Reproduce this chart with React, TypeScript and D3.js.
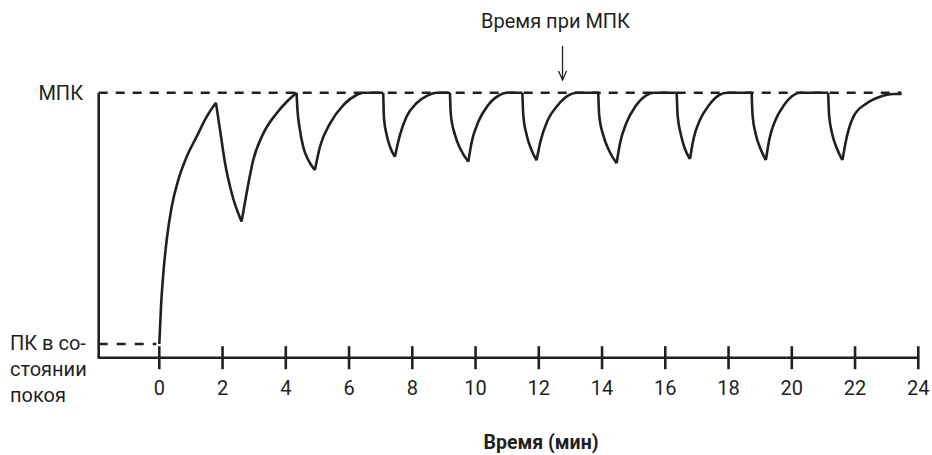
import React from 'react';
import * as d3 from 'd3';

// time (min) and VO2 (% between rest = 0 and VO2max = 100)
const times = [
  0, 0.054, 0.127, 0.234, 0.392, 0.6, 0.866, 1.18, 1.5, 1.79,
  1.92, 2.08, 2.29, 2.6,
  2.76, 2.97, 3.29, 3.71, 4.03, 4.34,
  4.37, 4.43, 4.55, 4.71, 4.92,
  5.08, 5.4, 5.82, 6.24, 6.45, 7.08,
  7.105, 7.19, 7.295, 7.45,
  7.61, 7.82, 8.14, 8.46, 8.77, 9.19,
  9.22, 9.35, 9.51, 9.77,
  9.88, 10.09, 10.4, 10.77, 10.98, 11.48,
  11.51, 11.62, 11.76, 11.93,
  12.06, 12.28, 12.6, 12.95, 13.2, 13.88,
  13.91, 14.04, 14.22, 14.46,
  14.57, 14.77, 15.05, 15.38, 15.62, 16.36,
  16.39, 16.49, 16.61, 16.78,
  16.89, 17.09, 17.38, 17.7, 17.94, 18.73,
  18.76, 18.86, 19.0, 19.18,
  19.29, 19.48, 19.75, 20.05, 20.26, 21.15,
  21.18, 21.28, 21.42, 21.6,
  21.74, 21.95, 22.37, 22.79, 23.21, 23.47,
];
const values = [
  0, 14.8, 28.1, 41.4, 54.6, 65.3, 74.5, 82.5, 90.5, 96.0,
  85.2, 71.9, 60, 48.7,
  60, 73.2, 83.8, 91.8, 96.4, 100,
  93, 86.5, 78.5, 73.2, 69.2,
  78.5, 87.8, 95.1, 99.1, 100, 100,
  89.8, 83.2, 78.5, 74.5,
  83.2, 90.5, 95.9, 98.7, 100, 100,
  91.1, 83.2, 77.9, 72.5,
  80.5, 88.5, 95.1, 99.1, 100, 100,
  91, 83, 77.5, 73.1,
  81, 89, 95, 99, 100, 100,
  91, 83, 77, 71.9,
  80, 88, 94.5, 98.8, 100, 100,
  91, 83.5, 78, 73.6,
  81.5, 89, 95, 99, 100, 100,
  91, 83.5, 78, 73.2,
  81.5, 89, 95, 99, 100, 100,
  91, 83.5, 78, 73.2,
  82.5, 90.5, 95.8, 98.4, 99.5, 99.5,
];
// sharp corners of the curve (peaks / troughs), in minutes
const kinks = [1.79, 2.6, 4.34, 4.92, 7.08, 7.45, 9.19, 9.77, 11.48, 11.93, 13.88, 14.46, 16.36, 16.78, 18.73, 19.18, 21.15, 21.6];

const xTicks = [0, 2, 4, 6, 8, 10, 12, 14, 16, 18, 20, 22, 24];
const maxLabel = 'МПК';
const restLabel = ['ПК в со-', 'стоянии', 'покоя'];
const annotation = 'Время при МПК';
const annotationTime = 12.75;
const xTitle = 'Время (мин)';

const W = 932;
const H = 455;
const INK = '#231f20';
const FONT = 'Roboto, sans-serif';

export default function App() {
  const x = d3.scaleLinear().domain([0, 24]).range([159.3, 918.3]);
  const y = d3.scaleLinear().domain([0, 100]).range([344, 92.7]);
  const axisY = 357.7;
  const yAxisX = 98.7;

  const pts = times.map((t, i) => [t, values[i]] as [number, number]);
  const segments: [number, number][][] = [];
  let cur: [number, number][] = [];
  pts.forEach((p) => {
    cur.push(p);
    if (kinks.includes(p[0])) {
      segments.push(cur);
      cur = [p];
    }
  });
  if (cur.length > 1) segments.push(cur);

  const line = d3
    .line<[number, number]>()
    .x((d) => x(d[0]))
    .y((d) => y(d[1]))
    .curve(d3.curveMonotoneX);

  const ax = x(annotationTime);

  return (
    <svg
      width={W}
      height={H}
      style={{ position: 'absolute', left: 0, top: 0, background: '#fff' }}
      fontFamily={FONT}
    >
      {/* VO2max dashed reference */}
      <line x1={yAxisX} x2={x(23.47)} y1={y(100)} y2={y(100)} stroke={INK} strokeWidth={2.6} strokeDasharray="9 8" />
      {/* rest dashed reference */}
      <line x1={yAxisX} x2={x(0) - 3} y1={y(0)} y2={y(0)} stroke={INK} strokeWidth={2.6} strokeDasharray="9 9" />

      {/* y axis */}
      <line x1={yAxisX} x2={yAxisX} y1={y(100)} y2={axisY + 1} stroke={INK} strokeWidth={2.6} />
      {/* x axis */}
      <line x1={yAxisX} x2={x(24)} y1={axisY} y2={axisY} stroke={INK} strokeWidth={2.6} />
      {xTicks.map((t) => (
        <g key={t}>
          <line x1={x(t)} x2={x(t)} y1={axisY - 11.5} y2={axisY + 11.5} stroke={INK} strokeWidth={2.6} />
          <text x={x(t)} y={395} textAnchor="middle" fontSize={20} fill={INK}>
            {t}
          </text>
        </g>
      ))}

      {/* curve */}
      {segments.map((s, i) => (
        <path key={i} d={line(s) || ''} fill="none" stroke={INK} strokeWidth={2.6} strokeLinejoin="miter" />
      ))}

      {/* labels */}
      <text x={83} y={y(100) + 7} textAnchor="end" fontSize={20} fill={INK}>
        {maxLabel}
      </text>
      {restLabel.map((s, i) => (
        <text key={i} x={10} y={350 + i * 26} fontSize={20} fill={INK}>
          {s}
        </text>
      ))}

      {/* annotation */}
      <text x={ax - 7} y={28} textAnchor="middle" fontSize={20} fill={INK}>
        {annotation}
      </text>
      <line x1={ax} x2={ax} y1={46} y2={80} stroke={INK} strokeWidth={1.3} />
      <path d={`M${ax - 4},${71} L${ax},${80} L${ax + 4},${71}`} fill="none" stroke={INK} strokeWidth={1.3} />

      {/* x title */}
      <text x={541} y={449} textAnchor="middle" fontSize={19.5} fontWeight="bold" fill={INK}>
        {xTitle}
      </text>
    </svg>
  );
}
